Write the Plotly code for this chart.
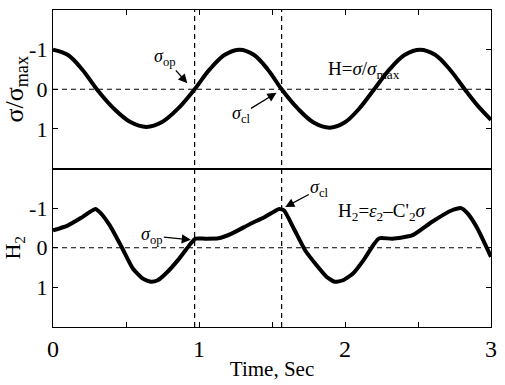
import plotly.graph_objects as go

# Top panel: normalized stress sigma/sigma_max vs time
t_top = [0.00, 0.10, 0.20, 0.30, 0.413, 0.527, 0.64, 0.75, 0.86, 0.97,
         1.073, 1.177, 1.28, 1.375, 1.471, 1.566, 1.676, 1.785, 1.895,
         1.997, 2.098, 2.20, 2.305, 2.41, 2.515, 2.617, 2.718, 2.82, 2.91, 3.00]
s_top = [-1.00, -0.87, -0.50, 0.00, 0.475, 0.82, 0.95, 0.82, 0.475, 0.00,
         -0.50, -0.87, -1.00, -0.87, -0.50, 0.00, 0.485, 0.84, 0.97,
         0.84, 0.485, 0.00, -0.50, -0.87, -1.00, -0.87, -0.50, 0.00, 0.42, 0.77]

# Bottom panel: H2 vs time
t_bot = [0.00, 0.10, 0.19, 0.29, 0.32, 0.39, 0.47, 0.548, 0.616, 0.672, 0.717,
         0.773, 0.863, 0.942, 0.976, 1.043, 1.133, 1.22, 1.35, 1.448, 1.549,
         1.583, 1.65, 1.728, 1.807, 1.875, 1.93, 1.987, 2.055, 2.133, 2.20,
         2.234, 2.324, 2.459, 2.594, 2.729, 2.796, 2.841, 2.908, 3.00]
h_bot = [-0.44, -0.56, -0.75, -0.98, -0.90, -0.56, -0.02, 0.53, 0.78, 0.86, 0.82,
         0.65, 0.28, -0.10, -0.23, -0.23, -0.24, -0.35, -0.60, -0.77, -0.98,
         -0.94, -0.48, 0.07, 0.45, 0.74, 0.86, 0.82, 0.65, 0.28, -0.10,
         -0.24, -0.23, -0.31, -0.65, -0.94, -1.00, -0.86, -0.48, 0.23]

x_ticks = [0, 1, 2, 3]
y_ticks = [-1, 0, 1]
t_op = 0.97
t_cl = 1.566

FONT = "Liberation Serif"

fig = go.Figure()
fig.add_trace(go.Scatter(x=t_top, y=s_top, mode="lines", xaxis="x2", yaxis="y2",
                         line=dict(color="black", width=4, shape="spline", smoothing=1.0),
                         showlegend=False, hoverinfo="skip"))
fig.add_trace(go.Scatter(x=t_bot, y=h_bot, mode="lines", xaxis="x", yaxis="y",
                         line=dict(color="black", width=4, shape="spline", smoothing=0.5),
                         showlegend=False, hoverinfo="skip"))

ax_common = dict(showgrid=False, zeroline=False, showline=True, linecolor="black",
                 linewidth=1.3, ticks="inside", ticklen=5, tickcolor="black", tickwidth=1.2)

fig.update_layout(
    width=505, height=385,
    margin=dict(l=52, r=8, t=10, b=57),
    paper_bgcolor="white", plot_bgcolor="white",
    font=dict(family=FONT, color="black", size=22),
    xaxis=dict(**ax_common, domain=[0, 1], anchor="y", range=[0, 3],
               tickvals=[0, 0.5, 1, 1.5, 2, 2.5, 3],
               ticktext=["0", "", "1", "", "2", "", "3"],
               mirror=True, tickfont=dict(size=24),
               title=dict(text="Time, Sec", font=dict(size=21), standoff=0)),
    xaxis2=dict(**ax_common, domain=[0, 1], anchor="y2", range=[0, 3],
                tickvals=[0, 0.5, 1, 1.5, 2, 2.5, 3], side="top",
                showticklabels=False, mirror=True, matches="x"),
    yaxis=dict(**ax_common, domain=[0, 0.5], anchor="x", range=[2, -2],
               tickvals=y_ticks, ticktext=["-1", "0", "1"], mirror="ticks",
               tickfont=dict(size=22),
               title=dict(text="H<sub>2</sub>", font=dict(size=22), standoff=6)),
    yaxis2=dict(**ax_common, domain=[0.5, 1], anchor="x2", range=[2, -2],
                tickvals=y_ticks, ticktext=["-1", "0", "1"], mirror="ticks",
                tickfont=dict(size=22),
                title=dict(text="σ/σ<sub>max</sub>", font=dict(size=26), standoff=2)),
)

dash = dict(color="black", width=1.2, dash="5px,4px")
shapes = [
    dict(type="line", xref="x", yref="y", x0=0, x1=3, y0=0, y1=0, line=dash, layer="below"),
    dict(type="line", xref="x2", yref="y2", x0=0, x1=3, y0=0, y1=0, line=dash, layer="below"),
    dict(type="line", xref="x", yref="paper", x0=t_op, x1=t_op, y0=0, y1=1, line=dash, layer="below"),
    dict(type="line", xref="x", yref="paper", x0=t_cl, x1=t_cl, y0=0, y1=1, line=dash, layer="below"),
]
fig.update_layout(shapes=shapes)

arr = dict(showarrow=True, arrowhead=2, arrowsize=1.4, arrowwidth=1.3, arrowcolor="black",
           font=dict(size=18, family=FONT))
anns = [
    dict(x=0.92, y=-0.15, xref="x2", yref="y2", text="<i>σ</i><sub>op</sub>", ax=-23, ay=-26, **arr),
    dict(x=1.531, y=0.09, xref="x2", yref="y2", text="<i>σ</i><sub>cl</sub>", ax=-36, ay=22, **arr),
    dict(x=0.944, y=-0.2, xref="x", yref="y", text="<i>σ</i><sub>op</sub>", ax=-39, ay=-4, **arr),
    dict(x=1.591, y=-1.03, xref="x", yref="y", text="<i>σ</i><sub>cl</sub>", ax=34, ay=-18, **arr),
    dict(x=2.13, y=-0.49, xref="x2", yref="y2", text="H=<i>σ</i>/<i>σ</i><sub>max</sub>",
         showarrow=False, font=dict(size=19, family=FONT)),
    dict(x=2.25, y=-0.91, xref="x", yref="y", text="H<sub>2</sub>=<i>ε</i><sub>2</sub>–C'<sub>2</sub><i>σ</i>",
         showarrow=False, font=dict(size=19, family=FONT)),
]
fig.update_layout(annotations=anns)

fig.write_html("out.html")
